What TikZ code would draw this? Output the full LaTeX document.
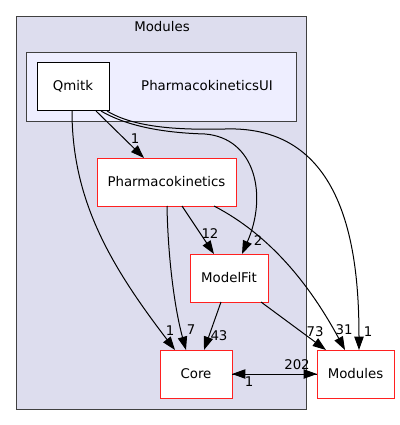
\documentclass[tikz,border=0pt]{standalone}
\usepackage{fontspec}
\setmainfont{DejaVu Sans}
\usetikzlibrary{arrows.meta}
\definecolor{outerfill}{HTML}{DDDDEE}
\definecolor{innerfill}{HTML}{EEEEFF}
\definecolor{clborder}{HTML}{404040}
\definecolor{dirred}{HTML}{FF2020}
\begin{document}
\begin{tikzpicture}[x=0.75pt,y=-0.75pt,
  font=\fontsize{10pt}{12pt}\selectfont,
  dirbox/.style={draw=dirred,fill=white,line width=0.75pt},
  qbox/.style={draw=black,fill=white,line width=0.75pt},
  dep/.style={draw=black,line width=0.75pt,-{Triangle[length=10pt,width=7pt]}},
  elabel/.style={inner sep=0pt}]
\useasboundingbox (0,0) rectangle (400,425);
% clusters
\fill[outerfill,draw=clborder,line width=0.75pt] (16,16) rectangle (306,409);
\node[elabel] (modtitle) at (162,27) {Modules};
\fill[innerfill,draw=clborder,line width=0.75pt] (26,52) rectangle (296,121);
\node[elabel] (pkuilabel) at (207,86) {PharmacokineticsUI};
% nodes
\path[qbox] (37,62) rectangle (109,110);
\node[elabel] (qmitk) at (73,86) {Qmitk};
\coordinate (qmitkA) at (72,111);
\coordinate (qmitkB) at (96,111);
\coordinate (qmitkC) at (101,111);
\coordinate (qmitkD) at (107,111);
\path[dirbox] (97,158) rectangle (236,206);
\node[elabel] (pk) at (166.5,182) {Pharmacokinetics};
\path[dirbox] (190,254) rectangle (268,302);
\node[elabel] (mf) at (229,278) {ModelFit};
\path[dirbox] (160,350) rectangle (232,398);
\node[elabel] (core) at (196,374) {Core};
\path[dirbox] (317,350) rectangle (394,398);
\node[elabel] (mods) at (355.5,374) {Modules};
% anchor points
\coordinate (pkT) at (144,158);
\coordinate (pkA) at (167,206);
\coordinate (pkB) at (182,206);
\coordinate (pkC) at (214,206);
\coordinate (mfT1) at (214,254);
\coordinate (mfT2) at (242,254);
\coordinate (mfA) at (221,302);
\coordinate (mfB) at (261,302);
\coordinate (coreT1) at (175,350);
\coordinate (coreT2) at (186,350);
\coordinate (coreT3) at (204,350);
\coordinate (coreR) at (232,374);
\coordinate (modsT1) at (326,350);
\coordinate (modsT2) at (345,350);
\coordinate (modsT3) at (359,350);
\coordinate (modsL) at (317,374);
% edges
\draw[dep] (qmitkB) -- (pkT);
\node[elabel] (l1) at (135,139) {1};
\draw[dep] (qmitkA) .. controls (72,200) and (110,265) .. (coreT1);
\node[elabel] (l2) at (170,331) {1};
\draw[dep] (qmitkC) .. controls (130,128) and (170,133) .. (205,134) .. controls (255,138) and (268,195) .. (mfT2);
\node[elabel] (l3) at (258,241) {2};
\draw[dep] (qmitkD) .. controls (135,128) and (180,130) .. (225,129) .. controls (345,125) and (359,250) .. (modsT3);
\node[elabel] (l4) at (368,332) {1};
\draw[dep] (pkA) .. controls (168,260) and (175,310) .. (coreT2);
\node[elabel] (l5) at (191,330) {7};
\draw[dep] (pkB) -- (mfT1);
\node[elabel] (l6) at (210,234) {12};
\draw[dep] (pkC) .. controls (270,235) and (310,285) .. (modsT2);
\node[elabel] (l7) at (344,330) {31};
\draw[dep] (mfA) -- (coreT3);
\node[elabel] (l8) at (219,336) {43};
\draw[dep] (mfB) -- (modsT1);
\node[elabel] (l9) at (315,332) {73};
\draw[dep] (coreR) -- (modsL);
\draw[dep] (modsL) -- (coreR);
\node[elabel] (l10) at (297,365) {202};
\node[elabel] (l11) at (249,382) {1};
\end{tikzpicture}
\end{document}
